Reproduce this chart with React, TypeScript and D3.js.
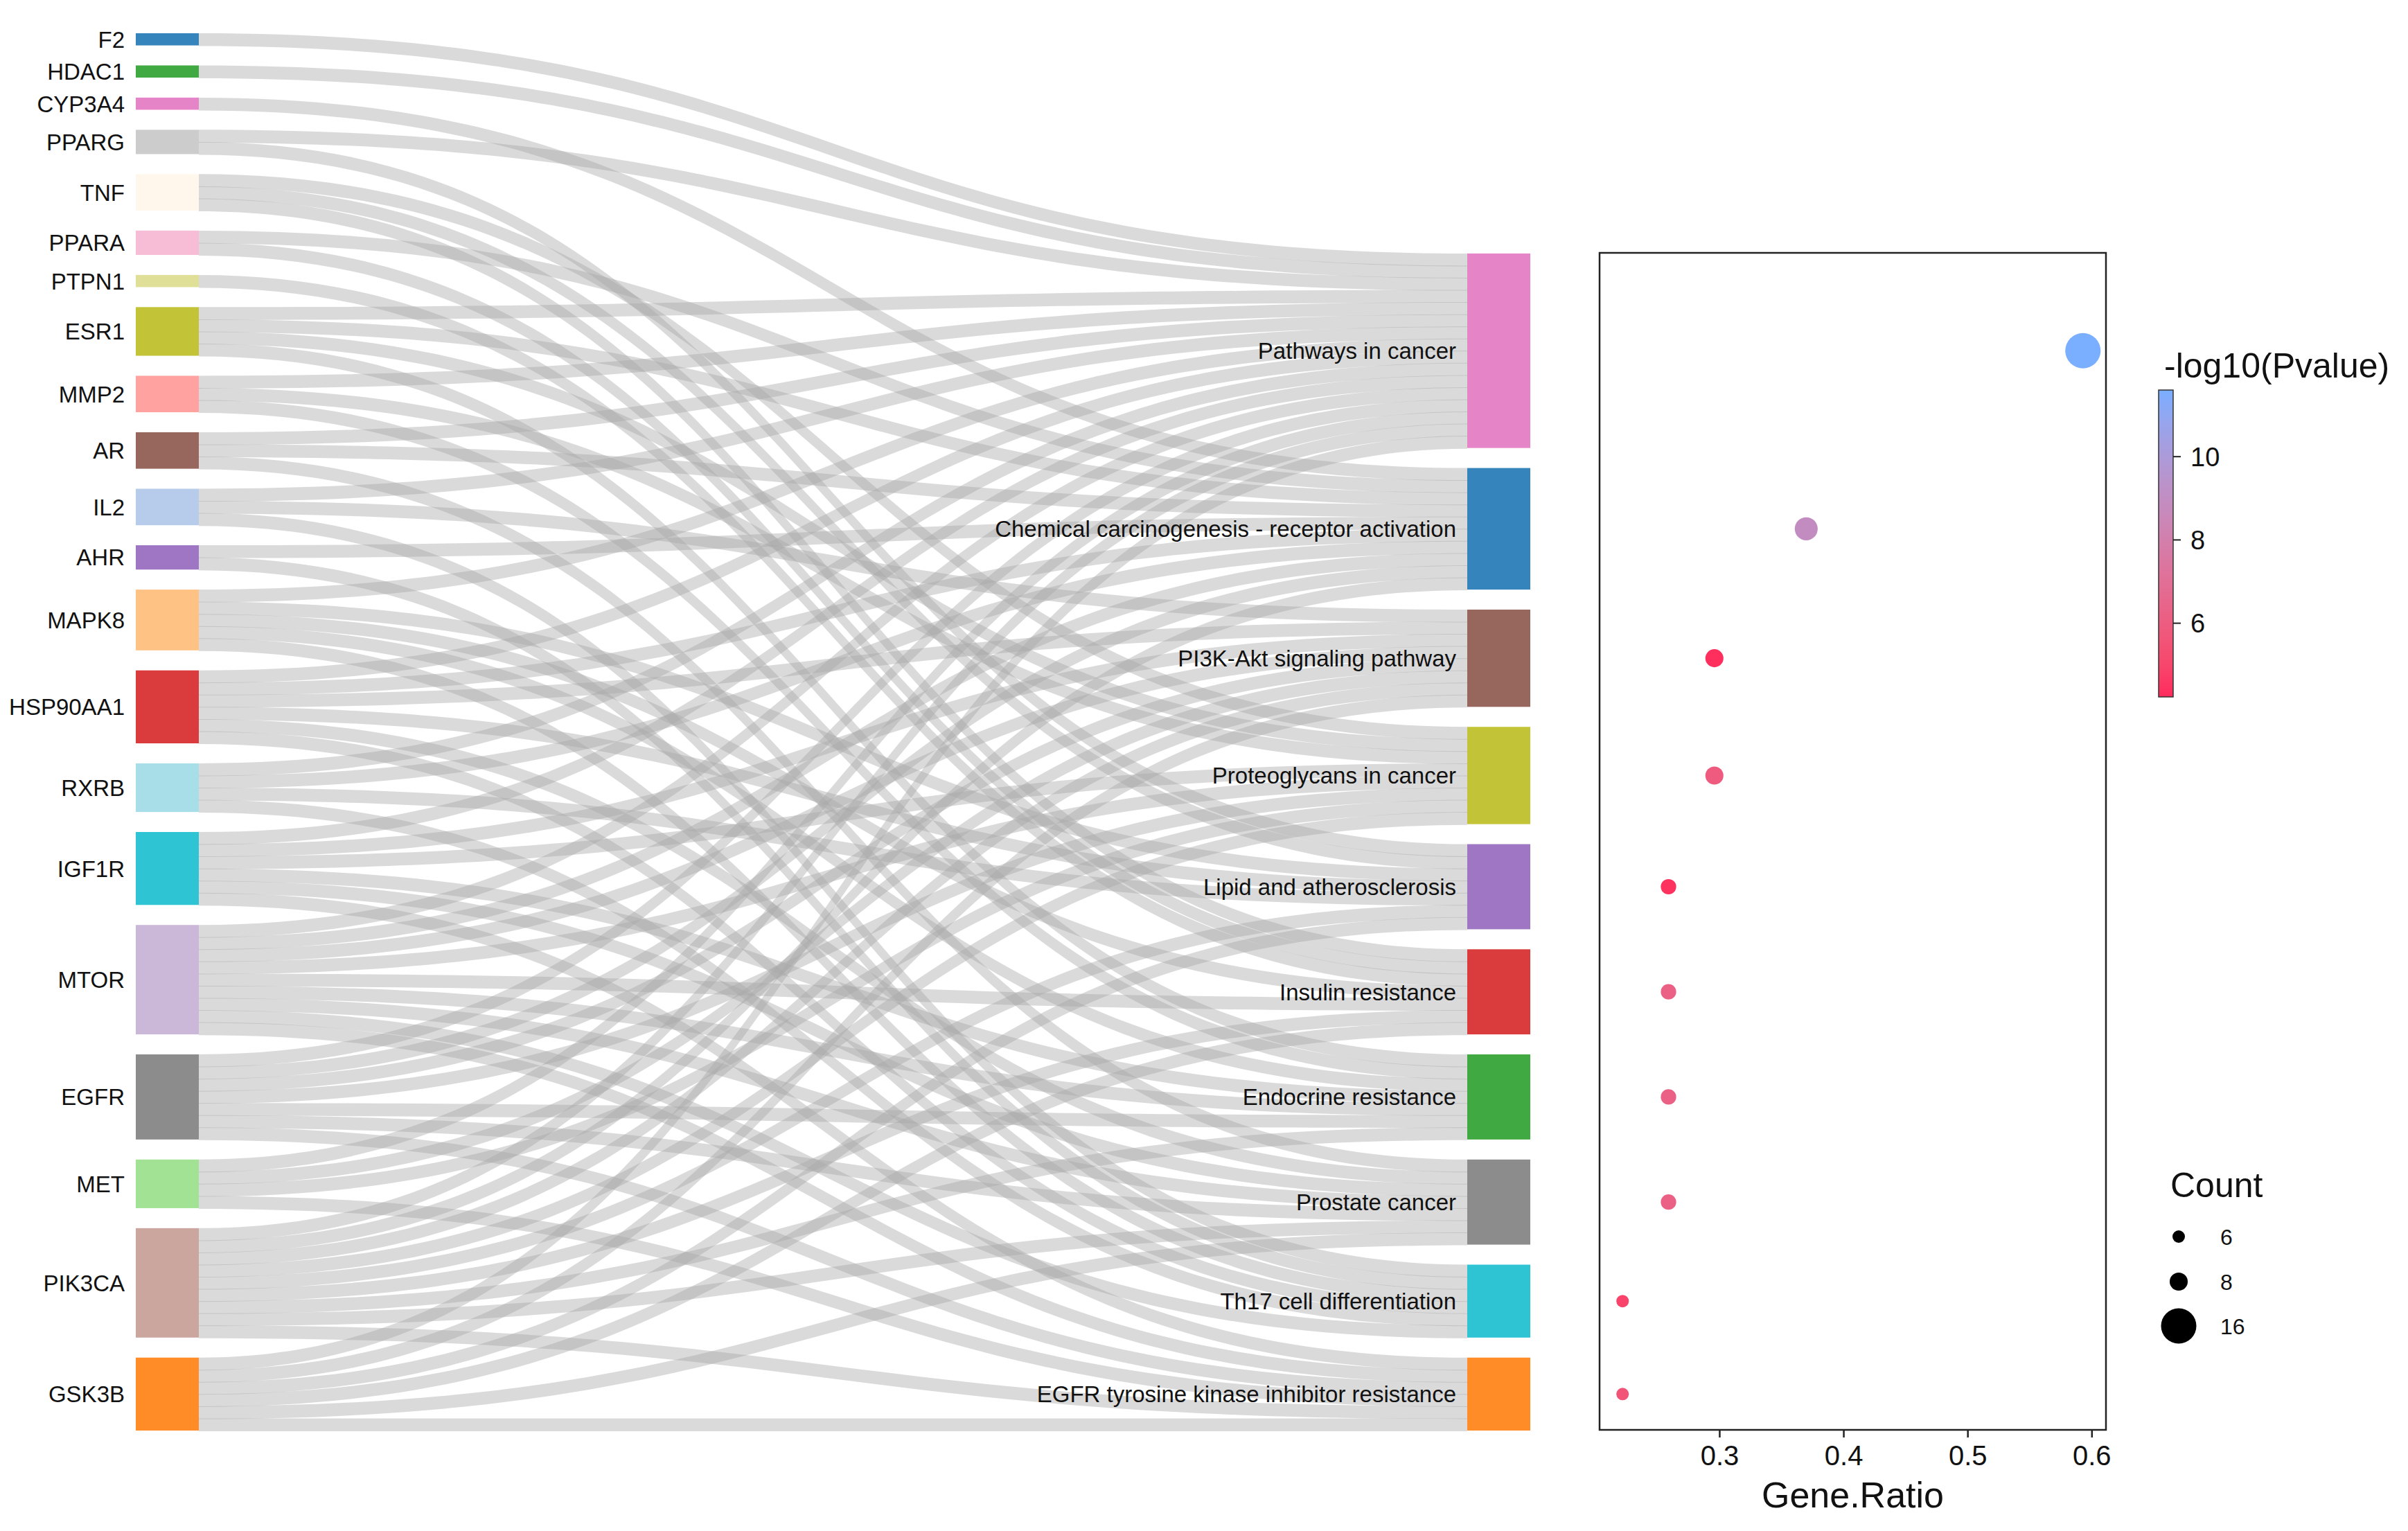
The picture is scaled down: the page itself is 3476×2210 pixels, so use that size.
import React from 'react';
import { useRef, useEffect } from 'react';
import * as d3 from 'd3';

// genes (left column), top to bottom
const genes = ["F2", "HDAC1", "CYP3A4", "PPARG", "TNF", "PPARA", "PTPN1", "ESR1", "MMP2", "AR", "IL2",
  "AHR", "MAPK8", "HSP90AA1", "RXRB", "IGF1R", "MTOR", "EGFR", "MET", "PIK3CA", "GSK3B"];
const geneColors = ["#1f77b4", "#2ca02c", "#e377c2", "#c7c7c7", "#fff6ea", "#f7b6d2", "#dbdb8d", "#bcbd22",
  "#ff9896", "#8c564b", "#aec7e8", "#9467bd", "#ffbb78", "#d62728", "#9edae5", "#17becf", "#c5b0d5",
  "#7f7f7f", "#98df8a", "#c49c94", "#ff7f0e"];

// KEGG pathways (right column), top to bottom
const pathways = ["Pathways in cancer", "Chemical carcinogenesis - receptor activation", "PI3K-Akt signaling pathway",
  "Proteoglycans in cancer", "Lipid and atherosclerosis", "Insulin resistance", "Endocrine resistance",
  "Prostate cancer", "Th17 cell differentiation", "EGFR tyrosine kinase inhibitor resistance"];
const pathwayColors = ["#e377c2", "#1f77b4", "#8c564b", "#bcbd22", "#9467bd", "#d62728", "#2ca02c",
  "#7f7f7f", "#17becf", "#ff7f0e"];

// genes annotated to each pathway
const pathwayGenes = [
  ["F2", "HDAC1", "PPARG", "ESR1", "MMP2", "AR", "IL2", "MAPK8", "HSP90AA1", "RXRB", "IGF1R", "MTOR", "EGFR", "MET", "PIK3CA", "GSK3B"],
  ["CYP3A4", "PPARA", "ESR1", "AR", "AHR", "HSP90AA1", "RXRB", "MTOR", "EGFR", "PIK3CA"],
  ["IL2", "HSP90AA1", "IGF1R", "MTOR", "EGFR", "MET", "PIK3CA", "GSK3B"],
  ["TNF", "ESR1", "MMP2", "IGF1R", "MTOR", "EGFR", "MET", "PIK3CA"],
  ["PPARG", "TNF", "MAPK8", "HSP90AA1", "RXRB", "PIK3CA", "GSK3B"],
  ["PPARA", "PTPN1", "TNF", "MAPK8", "MTOR", "PIK3CA", "GSK3B"],
  ["ESR1", "MMP2", "MAPK8", "IGF1R", "MTOR", "EGFR", "PIK3CA"],
  ["AR", "HSP90AA1", "IGF1R", "MTOR", "EGFR", "PIK3CA", "GSK3B"],
  ["IL2", "AHR", "MAPK8", "HSP90AA1", "RXRB", "MTOR"],
  ["IGF1R", "MTOR", "EGFR", "MET", "PIK3CA", "GSK3B"],
];

// enrichment dot plot
const geneRatio = [0.593, 0.370, 0.296, 0.296, 0.259, 0.259, 0.259, 0.259, 0.222, 0.222];
const negLog10P = [11.6, 8.9, 4.3, 5.9, 4.4, 6.2, 6.2, 6.2, 4.9, 5.6];
const ratioTicks = [0.3, 0.4, 0.5, 0.6];
const pTicks = [6, 8, 10];
const countBreaks = [6, 8, 16];

const W = 3476;
const H = 2210;
const FONT = "'Liberation Sans', Arial, Helvetica, sans-serif";

const style = {
  geneX: 196, pathX: 2118, nodeW: 91,
  top: 48, bottom: 2065,
  unitPx: 17.55, gapPx: 28.9,
  ribbonFill: "#a8a8a8", ribbonOpacity: 0.42,
  nodeOpacity: 0.9,
  labelSize: 33,
  panel: { left: 2309, right: 3040, top: 365, bottom: 2064 },
};

const lowColor = "#ff2b5c";
const highColor = "#7aaeff";

const App: React.FC = () => {
  const axisRef = useRef<SVGGElement>(null);

  // ---- sankey layout (in link units) ----
  const gapU = style.gapPx / style.unitPx;
  const links: { g: number, p: number }[] = [];
  pathwayGenes.forEach((list, p) => {
    list.forEach(name => links.push({ g: genes.indexOf(name), p }));
  });
  const geneSize = genes.map((_, i) => links.filter(l => l.g === i).length);
  const pathSize = pathways.map((_, i) => links.filter(l => l.p === i).length);
  const leftTotal = d3.sum(geneSize) + gapU * (genes.length - 1);
  const rightTotal = d3.sum(pathSize) + gapU * (pathways.length - 1);

  const y = d3.scaleLinear().domain([0, leftTotal]).range([style.top, style.bottom]);

  const geneStart: number[] = [];
  let acc = 0;
  geneSize.forEach((s, i) => { geneStart[i] = acc; acc += s + gapU; });
  const pathStart: number[] = [];
  acc = leftTotal - rightTotal;
  pathSize.forEach((s, i) => { pathStart[i] = acc; acc += s + gapU; });

  // slot order: inside a gene by pathway order, inside a pathway by gene order
  const srcSlot = new Map<string, number>();
  genes.forEach((_, g) => {
    links.filter(l => l.g === g).sort((a, b) => a.p - b.p)
      .forEach((l, k) => srcSlot.set(`${l.g}-${l.p}`, k));
  });
  const tgtSlot = new Map<string, number>();
  pathways.forEach((_, p) => {
    links.filter(l => l.p === p).sort((a, b) => a.g - b.g)
      .forEach((l, k) => tgtSlot.set(`${l.g}-${l.p}`, k));
  });

  const x0 = style.geneX + style.nodeW;
  const x1 = style.pathX;
  const xm = (x0 + x1) / 2;
  const ribbon = (l: { g: number, p: number }) => {
    const key = `${l.g}-${l.p}`;
    const ys0 = y(geneStart[l.g] + srcSlot.get(key)!);
    const ys1 = y(geneStart[l.g] + srcSlot.get(key)! + 1) + 1;
    const yt0 = y(pathStart[l.p] + tgtSlot.get(key)!);
    const yt1 = y(pathStart[l.p] + tgtSlot.get(key)! + 1) + 1;
    const path = d3.path();
    path.moveTo(x0, ys0);
    path.bezierCurveTo(xm, ys0, xm, yt0, x1, yt0);
    path.lineTo(x1, yt1);
    path.bezierCurveTo(xm, yt1, xm, ys1, x0, ys1);
    path.closePath();
    return path.toString();
  };

  // ---- dot plot ----
  const pn = style.panel;
  const [rMin, rMax] = d3.extent(geneRatio) as [number, number];
  const pad = (rMax - rMin) * 0.05;
  const xScale = d3.scaleLinear().domain([rMin - pad, rMax + pad]).range([pn.left, pn.right]);
  const pExtent = d3.extent(negLog10P) as [number, number];
  const colorScale = d3.scaleLinear<string>().domain([4.23, pExtent[1]])
    .range([lowColor, highColor]).interpolate(d3.interpolateLab);
  const counts = pathSize;
  const rScale = d3.scaleSqrt().domain([6, 16]).range([9, 25.5]);
  const pathCenter = (i: number) => (y(pathStart[i]) + y(pathStart[i] + pathSize[i])) / 2;

  const cbar = { x: 3116, w: 21, top: 563, bottom: 1006 };
  const cScale = d3.scaleLinear().domain([4.23, pExtent[1]]).range([cbar.bottom, cbar.top]);
  const stops = d3.range(0, 1.0001, 0.1);

  useEffect(() => {
    if (!axisRef.current) return;
    const axis = d3.axisBottom<number>(xScale)
      .tickValues(ratioTicks)
      .tickFormat(d3.format(".1f"))
      .tickSize(11)
      .tickPadding(12);
    const g = d3.select(axisRef.current)
      .attr("transform", `translate(0, ${pn.bottom})`)
      .call(axis);
    g.select(".domain").remove();
    g.selectAll(".tick line").attr("stroke", "#222").attr("stroke-width", 2.5);
    g.selectAll(".tick text")
      .style("font-family", FONT)
      .style("font-size", "40px")
      .attr("fill", "#111");
  }, []);

  return (
    <svg width={W} height={H} viewBox={`0 0 ${W} ${H}`}
      style={{ position: "absolute", left: 0, top: 0, background: "#fff" }}
      fontFamily={FONT}>
      <rect x={0} y={0} width={W} height={H} fill="#fff" />

      {/* ribbons */}
      <g>
        {links.map((l, i) => (
          <path key={i} d={ribbon(l)} fill={style.ribbonFill} fillOpacity={style.ribbonOpacity} />
        ))}
      </g>

      {/* gene nodes */}
      <g>
        {genes.map((name, i) => {
          const yy0 = y(geneStart[i]);
          const yy1 = y(geneStart[i] + geneSize[i]);
          return (
            <g key={name}>
              <rect x={style.geneX} y={yy0} width={style.nodeW} height={yy1 - yy0}
                fill={geneColors[i]} fillOpacity={style.nodeOpacity} />
              <text x={style.geneX - 16} y={(yy0 + yy1) / 2} dy="0.36em" textAnchor="end"
                fontSize={style.labelSize} fill="#111">{name}</text>
            </g>
          );
        })}
      </g>

      {/* pathway nodes */}
      <g>
        {pathways.map((name, i) => {
          const yy0 = y(pathStart[i]);
          const yy1 = y(pathStart[i] + pathSize[i]);
          return (
            <g key={name}>
              <rect x={style.pathX} y={yy0} width={style.nodeW} height={yy1 - yy0}
                fill={pathwayColors[i]} fillOpacity={style.nodeOpacity} />
              <text x={style.pathX - 16} y={(yy0 + yy1) / 2} dy="0.36em" textAnchor="end"
                fontSize={style.labelSize} fill="#111">{name}</text>
            </g>
          );
        })}
      </g>

      {/* dot plot panel */}
      <rect x={pn.left} y={pn.top} width={pn.right - pn.left} height={pn.bottom - pn.top}
        fill="none" stroke="#222" strokeWidth={2.5} />
      <g>
        {pathways.map((name, i) => (
          <circle key={name} cx={xScale(geneRatio[i])} cy={pathCenter(i)} r={rScale(counts[i])}
            fill={colorScale(negLog10P[i])} />
        ))}
      </g>
      <g ref={axisRef} />
      <text x={(pn.left + pn.right) / 2} y={2176} textAnchor="middle" fontSize={52} fill="#111">Gene.Ratio</text>

      {/* colour bar legend */}
      <defs>
        <linearGradient id="pgrad" x1="0" y1="1" x2="0" y2="0">
          {stops.map(t => (
            <stop key={t} offset={t} stopColor={colorScale(4.23 + t * (pExtent[1] - 4.23))} />
          ))}
        </linearGradient>
      </defs>
      <text x={3124} y={545} fontSize={50} fill="#111">-log10(Pvalue)</text>
      <rect x={cbar.x} y={cbar.top} width={cbar.w} height={cbar.bottom - cbar.top}
        fill="url(#pgrad)" stroke="#333" strokeWidth={1.5} />
      {pTicks.map(t => (
        <g key={t}>
          <line x1={cbar.x + cbar.w} x2={cbar.x + cbar.w + 11} y1={cScale(t)} y2={cScale(t)}
            stroke="#222" strokeWidth={2} />
          <text x={3162} y={cScale(t)} dy="0.36em" fontSize={38} fill="#111">{t}</text>
        </g>
      ))}

      {/* size legend */}
      <text x={3133} y={1728} fontSize={50} fill="#111">Count</text>
      {countBreaks.map((c, i) => {
        const cy = [1785, 1850, 1914][i];
        return (
          <g key={c}>
            <circle cx={3145} cy={cy} r={rScale(c)} fill="#000" />
            <text x={3205} y={cy} dy="0.36em" fontSize={32} fill="#111">{c}</text>
          </g>
        );
      })}
    </svg>
  );
};

export default App;
